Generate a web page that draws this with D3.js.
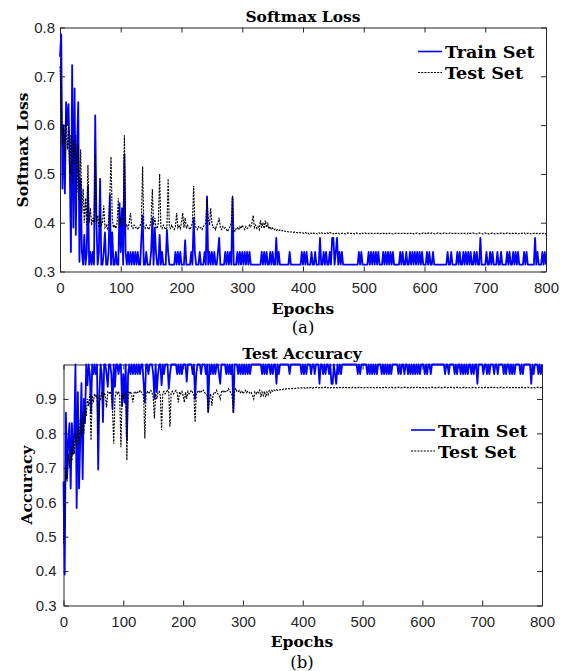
<!DOCTYPE html>
<html><head><meta charset="utf-8">
<script src="https://cdn.jsdelivr.net/npm/d3@7"></script>
<style>body{margin:0;background:#fff}</style>
</head><body><svg id="c" width="567" height="671"></svg>
<script>
// ---- data (one value every epochStep epochs, starting at epoch 0) ----
const epochStep = 2;
const xTicks = [0, 100, 200, 300, 400, 500, 600, 700, 800];
const lossTicks = [0.3, 0.4, 0.5, 0.6, 0.7, 0.8];
const accTicks = [0.3, 0.4, 0.5, 0.6, 0.7, 0.8, 0.9];
const seriesNames = ["Train Set", "Test Set"];

const trainLoss = [
0.74,0.786,0.47,0.60,0.46,0.647,0.60,0.643,0.52,0.34,0.723,0.39,0.675,0.375,0.55,0.647,0.32,0.49,0.34,0.314,
0.375,0.314,0.34,0.475,0.314,0.34,0.314,0.34,0.314,0.62,0.40,0.314,0.34,0.49,0.314,0.314,0.34,0.38,0.314,0.314,
0.34,0.457,0.314,0.38,0.314,0.314,0.34,0.314,0.314,0.44,0.34,0.43,0.314,0.54,0.34,0.314,0.34,0.314,0.34,0.314,
0.34,0.314,0.34,0.314,0.34,0.314,0.314,0.37,0.415,0.314,0.314,0.34,0.314,0.314,0.314,0.34,0.41,0.314,0.39,0.34,
0.314,0.314,0.375,0.314,0.34,0.314,0.314,0.314,0.385,0.34,0.314,0.314,0.314,0.314,0.314,0.34,0.314,0.34,0.314,0.34,
0.314,0.314,0.314,0.364,0.314,0.314,0.314,0.314,0.34,0.314,0.41,0.34,0.314,0.314,0.314,0.34,0.314,0.314,0.314,0.34,
0.314,0.454,0.314,0.34,0.314,0.34,0.314,0.34,0.314,0.314,0.34,0.369,0.314,0.314,0.314,0.314,0.34,0.314,0.34,0.314,
0.34,0.314,0.452,0.314,0.314,0.314,0.34,0.314,0.34,0.314,0.34,0.314,0.34,0.314,0.34,0.314,0.34,0.314,0.314,0.314,
0.314,0.314,0.314,0.314,0.314,0.314,0.34,0.314,0.34,0.314,0.34,0.314,0.314,0.34,0.314,0.34,0.314,0.314,0.369,0.314,
0.34,0.314,0.314,0.314,0.314,0.314,0.314,0.314,0.314,0.34,0.314,0.314,0.314,0.314,0.314,0.314,0.314,0.314,0.314,0.34,
0.314,0.34,0.314,0.34,0.314,0.314,0.314,0.34,0.314,0.314,0.34,0.314,0.314,0.314,0.369,0.314,0.314,0.34,0.314,0.34,
0.314,0.314,0.34,0.314,0.369,0.369,0.314,0.34,0.369,0.314,0.34,0.314,0.34,0.314,0.314,0.314,0.314,0.314,0.314,0.314,
0.314,0.314,0.314,0.314,0.314,0.314,0.34,0.314,0.34,0.314,0.314,0.314,0.314,0.314,0.34,0.314,0.34,0.314,0.34,0.314,
0.34,0.314,0.34,0.314,0.314,0.314,0.34,0.314,0.34,0.314,0.34,0.314,0.34,0.314,0.34,0.314,0.314,0.314,0.314,0.314,
0.34,0.314,0.34,0.314,0.314,0.34,0.314,0.314,0.34,0.314,0.34,0.314,0.34,0.314,0.34,0.314,0.34,0.314,0.34,0.314,
0.314,0.314,0.34,0.314,0.34,0.314,0.314,0.34,0.314,0.314,0.314,0.314,0.314,0.314,0.314,0.314,0.314,0.314,0.314,0.34,
0.314,0.314,0.34,0.314,0.314,0.314,0.314,0.34,0.314,0.34,0.314,0.314,0.34,0.314,0.34,0.314,0.34,0.314,0.34,0.314,
0.314,0.34,0.314,0.34,0.314,0.314,0.369,0.314,0.314,0.314,0.314,0.34,0.314,0.314,0.34,0.314,0.34,0.314,0.314,0.314,
0.34,0.314,0.314,0.34,0.314,0.314,0.314,0.314,0.34,0.314,0.34,0.314,0.314,0.34,0.314,0.34,0.314,0.34,0.314,0.314,
0.314,0.314,0.34,0.314,0.34,0.314,0.314,0.314,0.314,0.314,0.314,0.369,0.314,0.34,0.314,0.314,0.314,0.34,0.314,0.34,
0.314];

const testLoss = [
0.72,0.65,0.56,0.60,0.53,0.62,0.55,0.60,0.50,0.58,0.48,0.57,0.52,0.58,0.46,0.56,0.44,0.55,0.42,0.47,
0.40,0.45,0.395,0.518,0.40,0.43,0.395,0.41,0.40,0.54,0.40,0.415,0.39,0.42,0.395,0.40,0.435,0.39,0.395,0.388,
0.40,0.455,0.535,0.41,0.39,0.395,0.388,0.40,0.45,0.392,0.41,0.395,0.40,0.579,0.39,0.395,0.388,0.40,0.42,0.392,
0.388,0.395,0.39,0.392,0.386,0.39,0.395,0.40,0.515,0.39,0.388,0.395,0.39,0.386,0.392,0.405,0.469,0.395,0.41,0.39,
0.388,0.40,0.50,0.392,0.388,0.395,0.39,0.386,0.39,0.49,0.392,0.388,0.395,0.39,0.386,0.392,0.42,0.39,0.395,0.388,
0.40,0.42,0.39,0.41,0.388,0.395,0.39,0.386,0.392,0.40,0.475,0.395,0.39,0.386,0.392,0.388,0.39,0.386,0.392,0.395,
0.40,0.45,0.41,0.395,0.43,0.40,0.39,0.392,0.386,0.395,0.40,0.41,0.39,0.386,0.392,0.388,0.39,0.386,0.382,0.388,
0.392,0.40,0.455,0.385,0.382,0.388,0.39,0.385,0.392,0.388,0.395,0.39,0.386,0.392,0.388,0.39,0.395,0.392,0.40,0.415,
0.39,0.395,0.388,0.392,0.386,0.405,0.39,0.40,0.388,0.405,0.39,0.398,0.387,0.392,0.386,0.389,0.385,0.387,0.384,0.386,
0.384,0.385,0.383,0.384,0.382,0.383,0.382,0.382,0.381,0.382,0.381,0.381,0.380,0.381,0.380,0.380,0.379,0.380,0.379,0.379,
0.379,0.378,0.380,0.378,0.379,0.377,0.379,0.378,0.380,0.378,0.379,0.378,0.377,0.379,0.378,0.380,0.378,0.379,0.378,0.377,
0.379,0.378,0.380,0.379,0.378,0.377,0.379,0.378,0.378,0.379,0.377,0.378,0.378,0.379,0.378,0.377,0.378,0.379,0.378,0.378,
0.378,0.379,0.377,0.378,0.379,0.378,0.378,0.377,0.379,0.378,0.378,0.379,0.378,0.377,0.378,0.379,0.378,0.378,0.377,0.378,
0.379,0.378,0.378,0.377,0.378,0.379,0.378,0.378,0.379,0.377,0.378,0.378,0.379,0.378,0.377,0.378,0.378,0.379,0.378,0.378,
0.377,0.378,0.379,0.378,0.378,0.377,0.378,0.379,0.378,0.378,0.379,0.377,0.378,0.378,0.379,0.378,0.377,0.378,0.378,0.379,
0.378,0.378,0.377,0.379,0.378,0.378,0.379,0.378,0.377,0.378,0.378,0.379,0.378,0.378,0.377,0.378,0.379,0.378,0.378,0.377,
0.378,0.379,0.378,0.378,0.377,0.378,0.378,0.379,0.378,0.377,0.378,0.378,0.379,0.378,0.378,0.377,0.379,0.378,0.378,0.378,
0.379,0.378,0.378,0.377,0.378,0.379,0.378,0.378,0.377,0.378,0.379,0.378,0.378,0.377,0.378,0.378,0.379,0.378,0.377,0.378,
0.378,0.377,0.378,0.379,0.378,0.378,0.377,0.378,0.379,0.378,0.378,0.377,0.378,0.378,0.379,0.378,0.378,0.377,0.378,0.379,
0.378,0.378,0.379,0.377,0.378,0.378,0.379,0.378,0.377,0.378,0.378,0.379,0.378,0.378,0.377,0.378,0.379,0.378,0.378,0.377,
0.378];

const trainAcc = [
0.66,0.39,0.86,0.67,0.78,0.83,0.64,0.83,0.74,0.80,1.0,0.583,0.92,0.64,0.78,0.946,0.667,0.90,0.83,1.0,
0.94,1,0.972,0.86,1,0.972,1,0.972,1,0.695,0.915,1,0.972,0.833,1,1,0.972,0.935,1,1,
0.972,0.87,1,0.935,1,1,0.972,1,1,0.88,0.972,0.89,1,0.78,0.972,1,0.972,1,0.972,1,
0.972,1,0.972,1,0.972,1,1,0.944,0.89,1,1,0.972,1,1,1,0.972,0.90,1,0.92,0.972,
1,1,0.94,1,0.972,1,1,1,0.93,0.972,1,1,1,1,1,0.972,1,0.972,1,0.972,
1,1,1,0.95,1,1,1,1,0.972,1,0.90,0.972,1,1,1,0.972,1,1,1,0.972,
1,0.862,1,0.972,1,0.972,1,0.972,1,1,0.972,0.944,1,1,1,1,0.972,1,0.972,1,
0.972,1,0.862,1,1,1,0.972,1,0.972,1,0.972,1,0.972,1,0.972,1,0.972,1,1,1,
1,1,1,1,1,1,0.972,1,0.972,1,0.972,1,1,0.972,1,0.972,1,1,0.944,1,
0.972,1,1,1,1,1,1,1,1,0.972,1,1,1,1,1,1,1,1,1,0.972,
1,0.972,1,0.972,1,1,1,0.972,1,1,0.972,1,1,1,0.944,1,1,0.972,1,0.972,
1,1,0.972,1,0.944,0.944,1,0.972,0.944,1,0.972,1,0.972,1,1,1,1,1,1,1,
1,1,1,1,1,1,0.972,1,0.972,1,1,1,1,1,0.972,1,0.972,1,0.972,1,
0.972,1,0.972,1,1,1,0.972,1,0.972,1,0.972,1,0.972,1,0.972,1,1,1,1,1,
0.972,1,0.972,1,1,0.972,1,1,0.972,1,0.972,1,0.972,1,0.972,1,0.972,1,0.972,1,
1,1,0.972,1,0.972,1,1,0.972,1,1,1,1,1,1,1,1,1,1,1,0.972,
1,1,0.972,1,1,1,1,0.972,1,0.972,1,1,0.972,1,0.972,1,0.972,1,0.972,1,
1,0.972,1,0.972,1,1,0.944,1,1,1,1,0.972,1,1,0.972,1,0.972,1,1,1,
0.972,1,1,0.972,1,1,1,1,0.972,1,0.972,1,1,0.972,1,0.972,1,0.972,1,1,
1,1,0.972,1,0.972,1,1,1,1,1,1,0.944,1,0.972,1,1,1,0.972,1,0.972,
1];

const testAcc = [
0.48,0.60,0.70,0.66,0.74,0.70,0.76,0.72,0.78,0.74,0.80,0.76,0.82,0.77,0.84,0.79,0.86,0.80,0.88,0.85,
0.90,0.88,0.915,0.78,0.91,0.89,0.915,0.905,0.91,0.80,0.91,0.90,0.92,0.895,0.918,0.91,0.875,0.92,0.915,0.922,
0.91,0.87,0.77,0.90,0.92,0.915,0.922,0.91,0.76,0.918,0.90,0.915,0.91,0.722,0.92,0.915,0.922,0.91,0.89,0.918,
0.922,0.915,0.92,0.918,0.925,0.92,0.915,0.91,0.785,0.92,0.922,0.915,0.92,0.925,0.918,0.905,0.843,0.915,0.90,0.92,
0.922,0.91,0.81,0.918,0.922,0.915,0.92,0.925,0.92,0.819,0.918,0.922,0.915,0.92,0.925,0.918,0.89,0.92,0.915,0.922,
0.91,0.89,0.92,0.90,0.922,0.915,0.92,0.925,0.918,0.91,0.833,0.915,0.92,0.925,0.918,0.922,0.92,0.925,0.918,0.915,
0.91,0.86,0.90,0.915,0.88,0.91,0.92,0.918,0.925,0.915,0.91,0.90,0.92,0.925,0.918,0.922,0.92,0.925,0.93,0.922,
0.918,0.91,0.86,0.925,0.93,0.922,0.92,0.925,0.918,0.922,0.915,0.92,0.925,0.918,0.922,0.92,0.915,0.918,0.91,0.90,
0.92,0.915,0.922,0.918,0.925,0.905,0.92,0.91,0.922,0.905,0.92,0.912,0.924,0.918,0.925,0.922,0.926,0.924,0.927,0.925,
0.927,0.926,0.928,0.927,0.929,0.928,0.929,0.929,0.930,0.929,0.930,0.930,0.931,0.930,0.931,0.931,0.932,0.931,0.932,0.932,
0.932,0.933,0.931,0.933,0.932,0.934,0.932,0.933,0.931,0.933,0.932,0.933,0.934,0.932,0.933,0.931,0.933,0.932,0.933,0.934,
0.932,0.933,0.931,0.932,0.933,0.934,0.932,0.933,0.933,0.932,0.934,0.933,0.933,0.932,0.933,0.934,0.933,0.932,0.933,0.933,
0.933,0.932,0.934,0.933,0.932,0.933,0.933,0.934,0.932,0.933,0.933,0.932,0.933,0.934,0.933,0.932,0.933,0.933,0.934,0.933,
0.932,0.933,0.933,0.934,0.933,0.932,0.933,0.933,0.932,0.934,0.933,0.933,0.932,0.933,0.934,0.933,0.933,0.932,0.933,0.933,
0.934,0.933,0.932,0.933,0.933,0.934,0.933,0.932,0.933,0.933,0.932,0.934,0.933,0.933,0.932,0.933,0.934,0.933,0.933,0.932,
0.933,0.933,0.934,0.932,0.933,0.933,0.932,0.933,0.934,0.933,0.933,0.932,0.933,0.933,0.934,0.933,0.932,0.933,0.933,0.934,
0.933,0.932,0.933,0.933,0.934,0.933,0.933,0.932,0.933,0.934,0.933,0.933,0.932,0.933,0.933,0.934,0.932,0.933,0.933,0.933,
0.932,0.933,0.933,0.934,0.933,0.932,0.933,0.933,0.934,0.933,0.932,0.933,0.933,0.934,0.933,0.933,0.932,0.933,0.934,0.933,
0.933,0.934,0.933,0.932,0.933,0.933,0.934,0.933,0.932,0.933,0.933,0.934,0.933,0.933,0.932,0.933,0.933,0.934,0.933,0.932,
0.933,0.933,0.932,0.934,0.933,0.933,0.932,0.933,0.934,0.933,0.933,0.932,0.933,0.933,0.932,0.933,0.934,0.933,0.933,0.933,
0.933];

// ---- drawing ----
const svg = d3.select("#c");
const AX = "#262626";
const SERIF = "'DejaVu Serif', 'Liberation Serif', serif";
const SANS = "'Liberation Sans', Arial, sans-serif";

function drawPanel(o) {
  const x = d3.scaleLinear().domain([0, 800]).range([o.left, o.right]);
  const y = d3.scaleLinear().domain(o.yDomain).range([o.bottom, o.top]);
  const g = svg.append("g");

  const styleAxis = sel => {
    sel.select(".domain").attr("stroke", AX).attr("stroke-width", 1);
    sel.selectAll(".tick line").attr("stroke", AX).attr("stroke-width", 1);
    sel.selectAll(".tick text").attr("fill", AX).style("font-family", SANS).style("font-size", "15px");
  };
  g.append("g").attr("transform", `translate(0,${o.bottom})`)
    .call(d3.axisBottom(x).tickValues(xTicks).tickSizeInner(-5).tickSizeOuter(0).tickPadding(11).tickFormat(d3.format("d")))
    .call(styleAxis);
  g.append("g").attr("transform", `translate(0,${o.top})`)
    .call(d3.axisTop(x).tickValues(xTicks).tickSizeInner(-5).tickSizeOuter(0).tickFormat(""))
    .call(styleAxis);
  g.append("g").attr("transform", `translate(${o.left},0)`)
    .call(d3.axisLeft(y).tickValues(o.yTicks).tickSizeInner(-5).tickSizeOuter(0).tickPadding(o.yPad).tickFormat(d3.format(".1f")))
    .call(styleAxis);
  g.append("g").attr("transform", `translate(${o.right},0)`)
    .call(d3.axisRight(y).tickValues(o.yTicks).tickSizeInner(-5).tickSizeOuter(0).tickFormat(""))
    .call(styleAxis);

  const line = d3.line().x((d, i) => x(i * epochStep)).y(d => y(d));
  g.append("path").datum(o.train).attr("d", line)
    .attr("fill", "none").attr("stroke", "#0000ff").attr("stroke-width", 1.8).attr("stroke-linejoin", "round");
  g.append("path").datum(o.test).attr("d", line)
    .attr("fill", "none").attr("stroke", "#000").attr("stroke-width", 1.15).attr("stroke-dasharray", "2,1.2");

  // title & labels
  g.append("text").attr("x", o.cx).attr("y", o.titleY).attr("text-anchor", "middle")
    .style("font-family", SERIF).style("font-weight", "bold").style("font-size", "15.5px").text(o.title);
  g.append("text").attr("x", o.cx).attr("y", o.xlabY).attr("text-anchor", "middle")
    .style("font-family", SERIF).style("font-weight", "bold").style("font-size", "15.5px").text("Epochs");
  g.append("text").attr("transform", `translate(${o.ylabX},${o.ylabY}) rotate(-90)`).attr("text-anchor", "middle")
    .style("font-family", SERIF).style("font-weight", "bold").style("font-size", "15.5px").text(o.ylabel);
  g.append("text").attr("x", o.cx).attr("y", o.capY).attr("text-anchor", "middle")
    .style("font-family", SERIF).style("font-size", "16.5px").text(o.caption);

  // legend
  const lg = g.append("g");
  seriesNames.forEach((name, k) => {
    const ly = o.legY + k * 21;
    lg.append("line").attr("x1", o.legX).attr("x2", o.legX + 24).attr("y1", ly).attr("y2", ly)
      .attr("stroke", k === 0 ? "#0000ff" : "#000")
      .attr("stroke-width", k === 0 ? 1.6 : 1.1)
      .attr("stroke-dasharray", k === 0 ? null : "2,1.2");
    lg.append("text").attr("x", o.legX + 27).attr("y", ly + 6.5)
      .style("font-family", SERIF).style("font-weight", "bold").style("font-size", "17.5px").text(name);
  });
}

drawPanel({
  left: 60, right: 546, top: 27.5, bottom: 271.5, yDomain: [0.3, 0.8], yTicks: lossTicks, yPad: 5,
  train: trainLoss, test: testLoss, title: "Softmax Loss", ylabel: "Softmax Loss", caption: "(a)",
  cx: 303, titleY: 22, xlabY: 314, capY: 333, ylabX: 27.5, ylabY: 150, legX: 418, legY: 51.5
});
drawPanel({
  left: 63.5, right: 542, top: 364.5, bottom: 605.5, yDomain: [0.3, 1.0], yTicks: accTicks, yPad: 7,
  train: trainAcc, test: testAcc, title: "Test Accuracy", ylabel: "Accuracy", caption: "(b)",
  cx: 302, titleY: 359, xlabY: 647, capY: 668, ylabX: 31.5, ylabY: 485, legX: 411, legY: 430
});
</script>
</body></html>
